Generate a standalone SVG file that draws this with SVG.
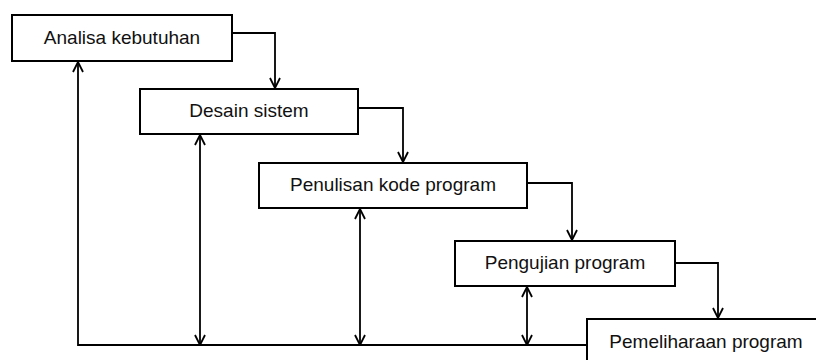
<svg xmlns="http://www.w3.org/2000/svg" width="816" height="360" viewBox="0 0 816 360">
<defs>
<style>
.box{fill:#fff;stroke:#000;stroke-width:2}
.lbl{font-family:"Liberation Sans",Arial,sans-serif;font-size:19px;fill:#111;text-anchor:middle}
.c{fill:none;stroke:#000;stroke-width:1.8}
</style>
<marker id="ah" viewBox="0 0 12 12" refX="11" refY="6" markerWidth="12" markerHeight="12" markerUnits="userSpaceOnUse" orient="auto-start-reverse">
<path d="M1,1 L11,6 L1,11" fill="none" stroke="#000" stroke-width="1.8"/>
</marker>
</defs>
<rect width="816" height="360" fill="#fff"/>
<g id="connectors">
<path class="c" d="M232,33 H275 V88" marker-end="url(#ah)"/>
<path class="c" d="M358,108 H403 V162" marker-end="url(#ah)"/>
<path class="c" d="M527,183 H572 V240" marker-end="url(#ah)"/>
<path class="c" d="M675,263 H718 V318" marker-end="url(#ah)"/>
<path class="c" d="M587,345 H78 V62" marker-end="url(#ah)"/>
<path class="c" d="M200,135 V345" marker-start="url(#ah)" marker-end="url(#ah)"/>
<path class="c" d="M360,209 V345" marker-start="url(#ah)" marker-end="url(#ah)"/>
<path class="c" d="M527,287 V345" marker-start="url(#ah)" marker-end="url(#ah)"/>
</g>
<g id="n1"><rect class="box" x="12" y="15" width="220" height="46"/><text class="lbl" x="122" y="44">Analisa kebutuhan</text></g>
<g id="n2"><rect class="box" x="140" y="89" width="218" height="45"/><text class="lbl" x="249" y="117">Desain sistem</text></g>
<g id="n3"><rect class="box" x="259" y="163" width="268" height="45"/><text class="lbl" x="393" y="191">Penulisan kode program</text></g>
<g id="n4"><rect class="box" x="455" y="241" width="220" height="45"/><text class="lbl" x="565" y="269">Pengujian program</text></g>
<g id="n5"><rect class="box" x="587" y="319" width="240" height="60"/><text class="lbl" x="706" y="348">Pemeliharaan program</text></g>
</svg>
